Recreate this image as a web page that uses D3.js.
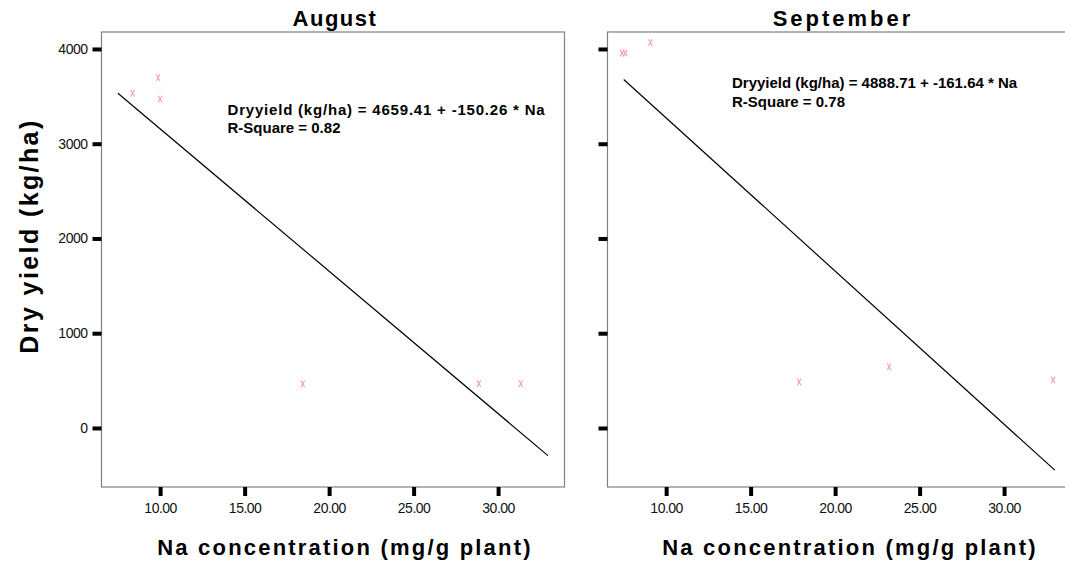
<!DOCTYPE html>
<html>
<head>
<meta charset="utf-8">
<script src="https://cdn.jsdelivr.net/npm/d3@7"></script>
<style>
  body { margin: 0; background: #fff; }
  text { font-family: "Liberation Sans", Arial, sans-serif; }
</style>
</head>
<body>
<div id="chart"></div>
<script>
// data
var augustNa = [8.37, 9.88, 10.0, 18.44, 28.86, 31.34];
var augustYield = [3534, 3698, 3470, 465, 468, 468];
var septemberNa = [7.39, 7.59, 9.07, 17.87, 23.2, 32.9];
var septemberYield = [3955, 3955, 4066, 487, 645, 508];

// fitted lines: intercept, slope, x range of the drawn line
var augustFit = [4659.41, -150.26];
var augustFitRange = [7.5, 32.95];
var septemberFit = [4888.71, -161.64];
var septemberFitRange = [7.49, 33.0];

var xTicks = [10, 15, 20, 25, 30];
var yTicks = [0, 1000, 2000, 3000, 4000];
var panelTitles = ["August", "September"];
var fitLabels = [
  ["Dryyield (kg/ha) = 4659.41 + -150.26 * Na", "R-Square = 0.82"],
  ["Dryyield (kg/ha) = 4888.71 + -161.64 * Na", "R-Square = 0.78"]
];

var svgWidth = 1065;
var svgHeight = 567;
var plotWidth = 463;
var plotHeight = 455;
var plotTop = 32;
var panelLeft = [101.5, 607.5];

var svg = d3.select("#chart")
  .append("svg")
  .attr("width", svgWidth)
  .attr("height", svgHeight);

var xScale = d3.scaleLinear().domain([6.53, 33.93]).range([0, plotWidth]);
var yScale = d3.scaleLinear().domain([-623, 4179]).range([plotHeight, 0]);

var panels = [
  { na: augustNa, yld: augustYield, fit: augustFit, range: augustFitRange, labelX: 126, labelY: 83, spacing: 0.8, lineGap: 18 },
  { na: septemberNa, yld: septemberYield, fit: septemberFit, range: septemberFitRange, labelX: 124.5, labelY: 56, spacing: 0, lineGap: 19 }
];

var marker = d3.symbol().type(d3.symbolX).size(22);

panels.forEach(function(p, i) {
  var g = svg.append("g")
    .attr("transform", `translate(${panelLeft[i]}, ${plotTop})`);

  // frame
  g.append("rect")
    .attr("x", 0).attr("y", 0)
    .attr("width", plotWidth).attr("height", plotHeight)
    .attr("fill", "none")
    .attr("stroke", "#808080")
    .attr("stroke-width", 1.2);

  // x axis
  var xAxis = d3.axisBottom(xScale)
    .tickValues(xTicks)
    .tickSize(9)
    .tickPadding(7)
    .tickFormat(d3.format(".2f"));
  var gx = g.append("g")
    .attr("transform", `translate(0, ${plotHeight})`)
    .call(xAxis);
  gx.select(".domain").remove();
  gx.selectAll(".tick line").attr("stroke", "#000").attr("stroke-width", 4);
  gx.selectAll(".tick text")
    .attr("font-size", 14)
    .attr("letter-spacing", -0.5)
    .attr("fill", "#111");

  // y axis
  var yAxis = d3.axisLeft(yScale)
    .tickValues(yTicks)
    .tickSize(9)
    .tickPadding(5)
    .tickFormat(i === 0 ? d3.format("d") : "");
  var gy = g.append("g").call(yAxis);
  gy.select(".domain").remove();
  gy.selectAll(".tick line").attr("stroke", "#000").attr("stroke-width", 4);
  gy.selectAll(".tick text")
    .attr("font-size", 14)
    .attr("letter-spacing", -0.5)
    .attr("fill", "#111");

  // fit line
  var line = d3.line()
    .x(d => xScale(d))
    .y(d => yScale(p.fit[0] + p.fit[1] * d));
  g.append("path")
    .datum(p.range)
    .attr("d", line)
    .attr("fill", "none")
    .attr("stroke", "#000")
    .attr("stroke-width", 1.2);

  // points
  g.selectAll(".pt")
    .data(p.na)
    .enter()
    .append("path")
    .attr("class", "pt")
    .attr("d", marker)
    .attr("transform", (d, j) => `translate(${xScale(d)}, ${yScale(p.yld[j])}) scale(0.7, 1.2)`)
    .attr("fill", "none")
    .attr("stroke", "#f79a9a")
    .attr("stroke-width", 1.2);

  // fit label
  var lbl = g.append("text")
    .attr("x", p.labelX)
    .attr("y", p.labelY)
    .attr("font-size", 15)
    .attr("font-weight", "bold")
    .attr("letter-spacing", p.spacing)
    .attr("fill", "#000");
  lbl.append("tspan").text(fitLabels[i][0]);
  lbl.append("tspan")
    .attr("x", p.labelX)
    .attr("dy", p.lineGap)
    .attr("letter-spacing", 0)
    .text(fitLabels[i][1]);

  // panel title
  svg.append("text")
    .attr("x", i === 0 ? 335 : 843)
    .attr("y", 26)
    .attr("text-anchor", "middle")
    .attr("font-size", 22)
    .attr("font-weight", "bold")
    .attr("letter-spacing", i === 0 ? 1.5 : 3)
    .text(panelTitles[i]);

  // x axis title
  svg.append("text")
    .attr("x", i === 0 ? 345 : 850)
    .attr("y", 555)
    .attr("text-anchor", "middle")
    .attr("font-size", 22)
    .attr("font-weight", "bold")
    .attr("letter-spacing", 2.2)
    .text("Na concentration (mg/g plant)");
});

// y axis title
svg.append("text")
  .attr("transform", "translate(38, 236) rotate(-90)")
  .attr("text-anchor", "middle")
  .attr("font-size", 25)
  .attr("font-weight", "bold")
  .attr("letter-spacing", 2.4)
  .text("Dry yield (kg/ha)");
</script>
</body>
</html>
